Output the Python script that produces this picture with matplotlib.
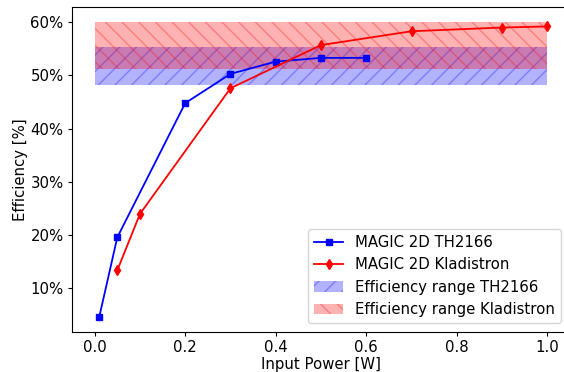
import matplotlib
matplotlib.use('Agg')
import matplotlib.pyplot as plt
from matplotlib.ticker import PercentFormatter

# measured efficiency, MAGIC 2D simulations
th2166_power = [0.01, 0.05, 0.2, 0.3, 0.4, 0.5, 0.6]
th2166_eff = [0.046, 0.196, 0.448, 0.503, 0.526, 0.533, 0.533]
klad_power = [0.05, 0.1, 0.3, 0.5, 0.7, 0.9, 1.0]
klad_eff = [0.134, 0.240, 0.476, 0.557, 0.583, 0.590, 0.592]

# efficiency ranges (low, high) over the power span
range_power = [0.0, 1.0]
th2166_range = [0.482, 0.553]
klad_range = [0.513, 0.600]

plt.rcParams['font.size'] = 10.7

fig = plt.figure(figsize=(5.64, 3.72), dpi=100)
ax = fig.add_axes([0.1277, 0.1075, 0.883, 0.8725])

ax.plot(th2166_power, th2166_eff, color='blue', marker='s', markersize=5,
        linewidth=1.3, label='MAGIC 2D TH2166')
ax.plot(klad_power, klad_eff, color='red', marker='d', markersize=5,
        linewidth=1.3, label='MAGIC 2D Kladistron')
ax.fill_between(range_power, th2166_range[0], th2166_range[1], color='blue',
                alpha=0.3, hatch='//', linewidth=0, label='Efficiency range TH2166')
ax.fill_between(range_power, klad_range[0], klad_range[1], color='red',
                alpha=0.3, hatch='\\\\', linewidth=0, label='Efficiency range Kladistron')

ax.yaxis.set_major_formatter(PercentFormatter(1, decimals=0))
ax.tick_params(length=3, pad=3)
ax.set_xlabel('Input Power [W]', labelpad=1)
ax.set_ylabel('Efficiency [%]', labelpad=2)
ax.legend(loc='lower right', borderaxespad=0.6)

fig.savefig('out.png', dpi=100)
